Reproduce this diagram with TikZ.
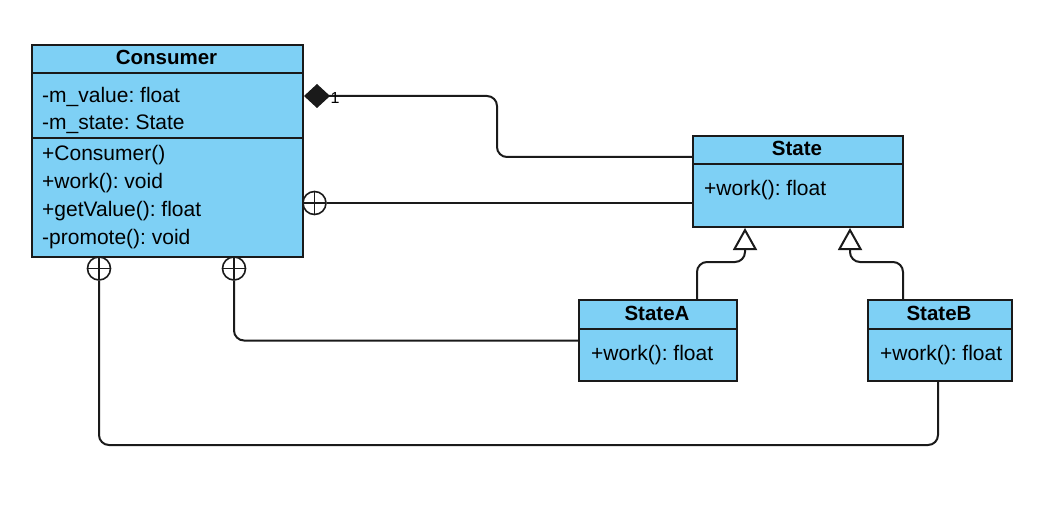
\documentclass[tikz,border=0pt]{standalone}
\usepackage{fontspec}
\setmainfont{Liberation Sans}
\frenchspacing
\usetikzlibrary{arrows.meta,calc}
\definecolor{clsfill}{RGB}{126,208,245}
\definecolor{ln}{RGB}{26,26,26}
\tikzset{
 cls/.style={draw=ln, line width=2pt, fill=clsfill, inner sep=0, anchor=north west},
 divider/.style={draw=ln, line width=2pt},
 ttl/.style={font=\fontsize{20.5}{24}\selectfont\bfseries, anchor=base, inner sep=0},
 mem/.style={font=\fontsize{21}{24}\selectfont, anchor=base west, inner sep=0},
 conn/.style={draw=ln, line width=2pt, rounded corners=10pt},
 oplus/.style={circle, draw=ln, line width=1.6pt, minimum size=23pt, inner sep=0,
   path picture={\draw[ln, line width=1.6pt] (path picture bounding box.north) -- (path picture bounding box.south)
     (path picture bounding box.west) -- (path picture bounding box.east);}},
 lbl/.style={font=\fontsize{16}{18}\selectfont, inner sep=0}
}
\begin{document}
\begin{tikzpicture}[x=1pt,y=-1pt]
\useasboundingbox[fill=white] (0,0) rectangle (1057,505);
% classes
\node[cls, minimum width=271pt, minimum height=212pt] (consumer) at (31,44) {};
\draw[divider] ($(consumer.north west)+(0,29)$) -- ($(consumer.north east)+(0,29)$);
\draw[divider] ($(consumer.north west)+(0,94)$) -- ($(consumer.north east)+(0,94)$);
\node[ttl] (ct) at (166.5,65) {Consumer};
\node[mem] (c1) at (42,102.5) {-m\_value: float};
\node[mem] (c2) at (42,130) {-m\_state: State};
\node[mem] (c3) at (42,161) {+Consumer()};
\node[mem] (c4) at (42,188.5) {+work(): void};
\node[mem] (c5) at (42,216.5) {+getValue(): float};
\node[mem] (c6) at (42,244) {-promote(): void};

\node[cls, minimum width=210pt, minimum height=91pt] (state) at (692,135) {};
\draw[divider] ($(state.north west)+(0,29)$) -- ($(state.north east)+(0,29)$);
\node[ttl] (st) at (797,155.7) {State};
\node[mem] (s1) at (704,195.7) {+work(): float};

\node[cls, minimum width=158pt, minimum height=81pt] (stateA) at (578,299) {};
\draw[divider] ($(stateA.north west)+(0,30)$) -- ($(stateA.north east)+(0,30)$);
\node[ttl] (sat) at (657,320) {StateA};
\node[mem] (sa1) at (591,360) {+work(): float};

\node[cls, minimum width=144pt, minimum height=81pt] (stateB) at (867,299) {};
\draw[divider] ($(stateB.north west)+(0,30)$) -- ($(stateB.north east)+(0,30)$);
\node[ttl] (sbt) at (939,320) {StateB};
\node[mem] (sb1) at (880,360) {+work(): float};

% composition
\draw[conn, {Diamond[length=26pt,width=24pt,fill=ln]}-] ($(consumer.north east)+(0,52)$) -- (497,96) -- (497,157) -- ($(state.north west)+(0,22)$);
\node[lbl] (one) at (335,97.5) {1};

% nesting
\node[oplus] (o2) at (314.5,203) {};
\draw[conn] (o2.east) -- (o2.east -| state.west);
\node[oplus] (o3) at (234,268.5) {};
\draw[conn] (o3.south) |- (stateA.west);
\node[oplus] (o4) at (99,268.5) {};
\draw[conn] (o4.south) -- (99,445) -- (938,445) -- ($(stateB.south west)+(71,0)$);

% inheritance
\draw[conn, -{Triangle[open,length=22pt,width=24pt]}] ($(stateA.north west)+(119,0)$) -- (697,262) -- (745,262) -- ($(state.south west)+(53,0)$);
\draw[conn, -{Triangle[open,length=22pt,width=24pt]}] ($(stateB.north west)+(36,0)$) -- (903,262) -- (850,262) -- ($(state.south west)+(158,0)$);
\end{tikzpicture}
\end{document}
